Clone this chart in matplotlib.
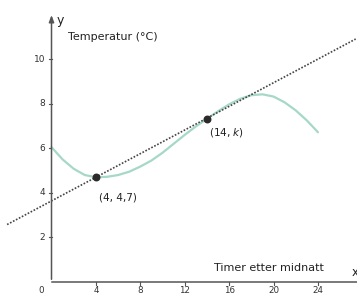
import matplotlib
matplotlib.use("Agg")
import matplotlib.pyplot as plt

# temperature curve
hours = [0, 1, 2, 3, 4, 5, 6, 7, 8, 9, 10, 11, 12,
         13, 14, 15, 16, 17, 18, 19, 20, 21, 22, 23, 24]
temp = [6.05, 5.5, 5.08, 4.8, 4.7, 4.72, 4.8, 4.95, 5.18, 5.45, 5.8, 6.2, 6.6,
        6.98, 7.32, 7.66, 7.97, 8.22, 8.38, 8.42, 8.32, 8.06, 7.7, 7.25, 6.72]

# secant line through (4, 4.7) and (14, k)
line_x = [-4, 27.4]
line_y = [2.58, 10.9]

pts_x = [4, 14]
pts_y = [4.7, 7.32]

xticks = [4, 8, 12, 16, 20, 24]
yticks = [2, 4, 6, 8, 10]

fig = plt.figure(figsize=(3.57, 2.95), dpi=100)
ax = fig.add_axes([0, 0, 1, 1])
ax.set_xlim(-4.64, 27.52)
ax.set_ylim(-0.58, 12.65)
ax.axis("off")

axcol = "#555555"
ax.plot([0, 27.6], [0, 0], color=axcol, lw=1.1)
ax.annotate("", xy=(0, 12.1), xytext=(0, 0),
            arrowprops=dict(arrowstyle="-|>,head_length=0.4,head_width=0.15",
                            color=axcol, lw=1.1))

for t in xticks:
    ax.plot([t, t], [0, -0.12], color=axcol, lw=0.8)
    ax.text(t, -0.36, str(t), ha="center", va="center", fontsize=6.3, color="#333333")
ax.text(-0.95, -0.36, "0", ha="center", va="center", fontsize=6.3, color="#333333")
for t in yticks:
    ax.plot([-0.25, 0], [t, t], color=axcol, lw=0.8)
    ax.text(-0.55, t, str(t), ha="right", va="center", fontsize=6.5, color="#333333")

ax.plot(hours, temp, color="#a6d8c8", lw=1.6, solid_capstyle="round",
        solid_joinstyle="round")
ax.plot(line_x, line_y, color="#444444", lw=1.2, linestyle=(0, (1, 1)))
ax.scatter(pts_x, pts_y, s=22, color="#2a2a2a", zorder=5)

ax.text(0.45, 11.75, "y", fontsize=9, color="#222222", ha="left", va="center")
ax.text(1.5, 11.0, "Temperatur (°C)", fontsize=8, color="#222222", ha="left", va="center")
ax.text(14.6, 0.62, "Timer etter midnatt", fontsize=8, color="#222222", ha="left", va="center")
ax.text(27.0, 0.45, "x", fontsize=8.5, color="#222222", ha="left", va="center")

ax.text(6.0, 3.8, "(4, 4,7)", fontsize=7.5, color="#222222", ha="center", va="center")
ax.text(14.2, 6.7, "(14, $k$)", fontsize=7.5, color="#222222", ha="left", va="center")

plt.savefig("out.png", dpi=100)
